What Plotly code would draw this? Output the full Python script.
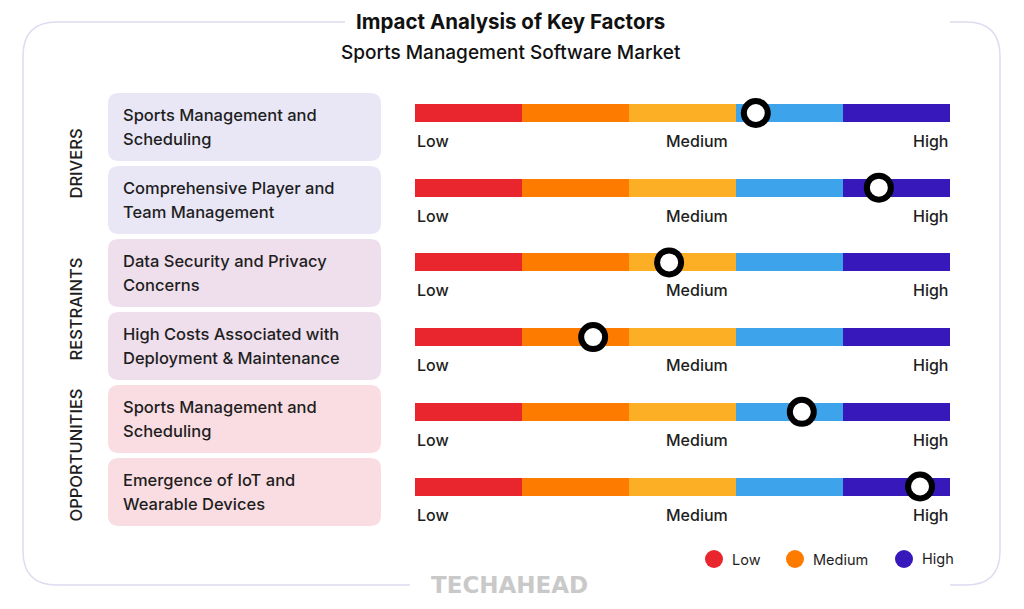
import plotly.graph_objects as go

# ---------------- data ----------------
factors = [
    "Sports Management and<br>Scheduling",
    "Comprehensive Player and<br>Team Management",
    "Data Security and Privacy<br>Concerns",
    "High Costs Associated with<br>Deployment & Maintenance",
    "Sports Management and<br>Scheduling",
    "Emergence of IoT and<br>Wearable Devices",
]
groups = ["DRIVERS", "DRIVERS", "RESTRAINTS", "RESTRAINTS", "OPPORTUNITIES", "OPPORTUNITIES"]
impact = [63.7, 86.7, 47.5, 33.3, 72.3, 94.4]          # position on 0-100 impact scale
band_edges = [0, 20, 40, 60, 80, 100]
band_colors = ["#E9262E", "#FD7C00", "#FCAE25", "#3DA4EB", "#3718BB"]
scale_labels = ["Low", "Medium", "High"]
legend_labels = ["Low", "Medium", "High"]
legend_colors = ["#E9262E", "#FD7C00", "#3718BB"]
group_fill = {"DRIVERS": "#E9E7F6", "RESTRAINTS": "#EFDFEC", "OPPORTUNITIES": "#F9DDE2"}
title = "Impact Analysis of Key Factors"
subtitle = "Sports Management Software Market"
watermark = "TECHAHEAD"

# ---------------- layout constants ----------------
PAGE_W, PAGE_H = 1024, 609
OFF = 8                          # body margin of the html page
W, H = PAGE_W - OFF, PAGE_H - OFF
FONT = "Inter"
TXT = "#1E1E1E"
BAR_ROW0, BAR_STEP = 113, 74.7   # bar centre of first row, bar row spacing (px)
BOX_ROW0, BOX_STEP = 127, 73     # box centre of first row, box row spacing (px)
BOX_H = 68
BOX_X0, BOX_X1 = 108, 381
BAR_X0, BAR_X1 = 415, 950
BAR_W = 18

n = len(factors)
row_y = [BAR_ROW0 + BAR_STEP * i for i in range(n)]
box_y = [BOX_ROW0 + BOX_STEP * i for i in range(n)]

fig = go.Figure()

# colour bands
for k in range(len(band_colors)):
    fig.add_trace(go.Bar(
        x=[band_edges[k + 1] - band_edges[k]] * n,
        base=[band_edges[k]] * n,
        y=row_y, orientation="h", width=BAR_W,
        marker=dict(color=band_colors[k], line=dict(width=0)),
        xaxis="x2", yaxis="y", showlegend=False, hoverinfo="skip",
    ))

# impact markers
fig.add_trace(go.Scatter(
    x=impact, y=row_y, mode="markers", xaxis="x2", yaxis="y",
    marker=dict(size=24, color="white", line=dict(color="black", width=6)),
    showlegend=False, hoverinfo="skip",
))

def rrect(x0, y0, x1, y1, r):
    return (f"M{x0+r},{y0} L{x1-r},{y0} Q{x1},{y0} {x1},{y0+r} "
            f"L{x1},{y1-r} Q{x1},{y1} {x1-r},{y1} L{x0+r},{y1} "
            f"Q{x0},{y1} {x0},{y1-r} L{x0},{y0+r} Q{x0},{y0} {x0+r},{y0} Z")

def f(size, weight=500, color=TXT, family=FONT):
    return dict(family=family, size=size, color=color, weight=weight)

shapes = []
annotations = []

# outer border with gaps for title and watermark
R = 34
L, T, Rt, B = 23, 22, 1000, 585
border = (f"M685,{T} L{Rt-R},{T} Q{Rt},{T} {Rt},{T+R} L{Rt},{B-R} Q{Rt},{B} {Rt-R},{B} L612,{B} "
          f"M410,{B} L{L+R},{B} Q{L},{B} {L},{B-R} L{L},{T+R} Q{L},{T} {L+R},{T} L345,{T}")
shapes.append(dict(type="path", path=border, xref="x", yref="y",
                   line=dict(color="#DEDCF1", width=1.5), layer="below"))

# factor boxes + labels
for i in range(n):
    cy = box_y[i]
    shapes.append(dict(type="path", path=rrect(BOX_X0, cy - BOX_H / 2, BOX_X1, cy + BOX_H / 2, 11),
                       xref="x", yref="y", fillcolor=group_fill[groups[i]],
                       line=dict(width=0), layer="below"))
    lines = factors[i].split("<br>")
    for j, ln in enumerate(lines):
        annotations.append(dict(x=121, y=cy + (j - (len(lines) - 1) / 2) * 24, xref="x", yref="y",
                                text=ln, showarrow=False, xanchor="left", yanchor="middle",
                                font=f(16.5)))
    # scale labels below each bar
    ly = row_y[i] + 28
    annotations.append(dict(x=0, y=ly, xref="x2", yref="y", text=scale_labels[0], showarrow=False,
                            xanchor="left", yanchor="middle", font=f(16)))
    annotations.append(dict(x=52.7, y=ly, xref="x2", yref="y", text=scale_labels[1], showarrow=False,
                            xanchor="center", yanchor="middle", font=f(16)))
    annotations.append(dict(x=100, y=ly, xref="x2", yref="y", text=scale_labels[2], showarrow=False,
                            xanchor="right", yanchor="middle", font=f(16)))

# group labels (rotated)
seen = []
for g in groups:
    if g not in seen:
        seen.append(g)
for g in seen:
    idx = [i for i in range(n) if groups[i] == g]
    cy = sum(box_y[i] for i in idx) / len(idx)
    annotations.append(dict(x=75, y=cy, xref="x", yref="y", text=g, textangle=-90, showarrow=False,
                            xanchor="center", yanchor="middle", font=f(16.5)))

# titles
annotations.append(dict(x=510, y=21, xref="x", yref="y", text=title, showarrow=False,
                        xanchor="center", yanchor="middle", font=f(20.5, 700, "#111111")))
annotations.append(dict(x=511, y=52, xref="x", yref="y", text=subtitle, showarrow=False,
                        xanchor="center", yanchor="middle", font=f(19, 500, "#111111")))
annotations.append(dict(x=509, y=585, xref="x", yref="y", text=watermark, showarrow=False,
                        xanchor="center", yanchor="middle",
                        font=f(23, 800, "#C9C9C9", "DejaVu Sans")))

# legend (circles + labels)
leg_x = [714, 795, 904]
for lx, lab, col in zip(leg_x, legend_labels, legend_colors):
    shapes.append(dict(type="circle", xref="x", yref="y", x0=lx - 9, x1=lx + 9, y0=559 - 9, y1=559 + 9,
                       fillcolor=col, line=dict(width=0)))
    annotations.append(dict(x=lx + 16, y=559, xref="x", yref="y", text=lab, showarrow=False,
                            xanchor="left", yanchor="middle", font=f(14.5, 400)))

fig.update_layout(
    width=W, height=H, margin=dict(l=0, r=0, t=0, b=0),
    paper_bgcolor="white", plot_bgcolor="white",
    barmode="overlay", bargap=0,
    xaxis=dict(range=[OFF, PAGE_W], domain=[0, 1], visible=False, fixedrange=True),
    xaxis2=dict(range=[0, 100], domain=[(BAR_X0 - OFF) / W, (BAR_X1 - OFF) / W], anchor="y",
                visible=False, fixedrange=True),
    yaxis=dict(range=[PAGE_H, OFF], domain=[0, 1], visible=False, fixedrange=True),
    shapes=shapes, annotations=annotations, showlegend=False,
)

fig.write_html("out.html", config={"displayModeBar": False})
